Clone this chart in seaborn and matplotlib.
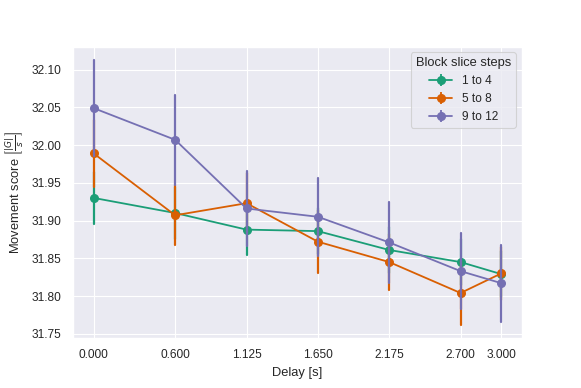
import numpy as np
import pandas as pd
import seaborn as sns
import matplotlib.pyplot as plt

delays = [0.0, 0.6, 1.125, 1.65, 2.175, 2.7, 3.0]
groups = ["1 to 4", "5 to 8", "9 to 12"]

mean_1_4 = [31.930, 31.910, 31.888, 31.886, 31.861, 31.845, 31.829]
err_1_4 = [0.034, 0.035, 0.033, 0.030, 0.030, 0.030, 0.030]
mean_5_8 = [31.989, 31.907, 31.923, 31.872, 31.845, 31.804, 31.830]
err_5_8 = [0.044, 0.040, 0.040, 0.042, 0.037, 0.042, 0.035]
mean_9_12 = [32.049, 32.007, 31.916, 31.905, 31.871, 31.833, 31.817]
err_9_12 = [0.064, 0.060, 0.050, 0.052, 0.054, 0.050, 0.051]

means = [mean_1_4, mean_5_8, mean_9_12]
errs = [err_1_4, err_5_8, err_9_12]

# two rows per point (mean - err, mean + err) -> mean and full interval
rows = []
for g, m, e in zip(groups, means, errs):
    for d, mi, ei in zip(delays, m, e):
        rows.append({"Delay [s]": d, "score": mi - ei, "Block slice steps": g})
        rows.append({"Delay [s]": d, "score": mi + ei, "Block slice steps": g})
df = pd.DataFrame(rows)

sns.set_theme(context="paper", style="darkgrid", font_scale=0.968)
plt.rcParams["font.family"] = ["Liberation Sans", "DejaVu Sans"]
colors = sns.color_palette("Dark2", 3)

fig, ax = plt.subplots(figsize=(5.81, 3.88), dpi=100)
fig.subplots_adjust(left=0.126, right=0.898, bottom=0.129, top=0.88)

sns.pointplot(
    data=df,
    x="Delay [s]",
    y="score",
    hue="Block slice steps",
    palette=colors,
    errorbar=("pi", 100),
    native_scale=True,
    linewidth=1.3,
    markersize=5.5,
    err_kws={"linewidth": 1.6},
    legend=False,
    ax=ax,
)
ax.set_xticks(delays)
ax.set_xticklabels([f"{d:.3f}" for d in delays])
ax.yaxis.set_major_formatter(plt.FormatStrFormatter("%.2f"))
ax.set_xlabel("Delay [s]")
ax.set_ylabel(r"Movement score $\left[\frac{|G|}{s}\right]$")

# errorbar-style legend handles
handles = [
    ax.errorbar([], [], yerr=[], color=c, marker="o", markersize=5.5, linewidth=1.3)
    for c in colors
]
ax.legend(handles, groups, title="Block slice steps", loc="upper right")

fig.savefig("out.png", dpi=100)
